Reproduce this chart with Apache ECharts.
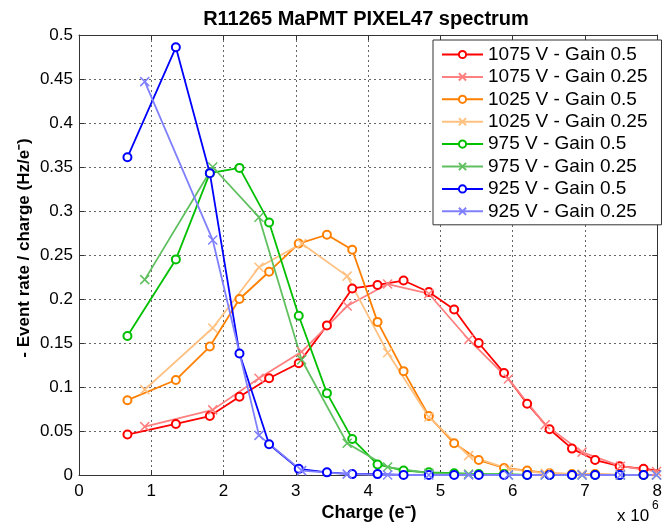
<!DOCTYPE html>
<html>
<head>
<meta charset="utf-8">
<script src="https://cdn.jsdelivr.net/npm/echarts@6/dist/echarts.min.js"></script>
<style>html,body{margin:0;padding:0;background:#fff}#c{width:665px;height:529px}</style>
</head>
<body>
<div id="c"></div>
<script>
// Charge positions (x 10^6 e-)
const xGain05 = [0.67, 1.34, 1.81, 2.22, 2.63, 3.04, 3.43, 3.78, 4.13, 4.49, 4.84, 5.19, 5.53, 5.88, 6.20, 6.51, 6.82, 7.14, 7.48, 7.81, 8.15];
const xGain025 = [0.91, 1.85, 2.49, 3.08, 3.71, 4.27, 4.84, 5.39, 5.94, 6.45, 6.96, 7.49, 7.99];

const v1075g05 = [0.046, 0.058, 0.067, 0.089, 0.110, 0.127, 0.170, 0.212, 0.216, 0.221, 0.208, 0.188, 0.150, 0.116, 0.081, 0.052, 0.030, 0.017, 0.010, 0.007, 0.004];
const v1075g025 = [0.055, 0.074, 0.110, 0.140, 0.192, 0.217, 0.206, 0.154, 0.109, 0.057, 0.026, 0.010, 0.004];
const v1025g05 = [0.085, 0.108, 0.146, 0.200, 0.231, 0.263, 0.273, 0.256, 0.174, 0.118, 0.067, 0.036, 0.017, 0.008, 0.005, 0.002, 0.001, 0.001, 0, 0];
const v1025g025 = [0.097, 0.167, 0.236, 0.263, 0.226, 0.139, 0.066, 0.022, 0.007, 0.002, 0.001, 0, 0];
const v975g05 = [0.158, 0.245, 0.343, 0.349, 0.287, 0.181, 0.093, 0.041, 0.012, 0.005, 0.003, 0.002, 0.001, 0.001, 0, 0, 0, 0, 0, 0];
const v975g025 = [0.222, 0.350, 0.293, 0.131, 0.036, 0.009, 0.002, 0.001, 0, 0, 0, 0, 0];
const v925g05 = [0.361, 0.486, 0.343, 0.138, 0.035, 0.007, 0.003, 0.001, 0.001, 0, 0, 0, 0, 0, 0, 0, 0, 0, 0, 0];
const v925g025 = [0.447, 0.267, 0.045, 0.005, 0.001, 0, 0, 0, 0, 0, 0, 0, 0];

const seriesNames = ['1075 V - Gain 0.5', '1075 V - Gain 0.25', '1025 V - Gain 0.5', '1025 V - Gain 0.25',
  '975 V - Gain 0.5', '975 V - Gain 0.25', '925 V - Gain 0.5', '925 V - Gain 0.25'];
const seriesValues = [v1075g05, v1075g025, v1025g05, v1025g025, v975g05, v975g025, v925g05, v925g025];
const seriesX = [xGain05, xGain025, xGain05, xGain025, xGain05, xGain025, xGain05, xGain025];
const seriesColors = ['#ff0000', '#ff8080', '#ff8000', '#ffc080', '#00c000', '#60c060', '#0000ff', '#8080ff'];

const FONT = 'Liberation Sans, Arial, sans-serif';
const crossPath = 'path://M0,0L10,10M10,0L0,10';

const series = seriesNames.map((name, i) => {
  const isCircle = i % 2 === 0;
  const c = seriesColors[i];
  return {
    name,
    type: 'line',
    data: seriesValues[i].map((v, k) => [seriesX[i][k], v]),
    symbol: isCircle ? 'emptyCircle' : crossPath,
    symbolSize: isCircle ? 8 : 9,
    showAllSymbol: true,
    lineStyle: { color: c, width: 1.8 },
    itemStyle: { color: c, borderColor: c, borderWidth: 1.5 },
    emphasis: { disabled: true },
    animation: false,
    clip: true
  };
});

const axisCommon = {
  type: 'value',
  axisLine: { show: true, onZero: false, lineStyle: { color: '#333', width: 1 } },
  axisTick: { show: true, inside: true, length: 5, lineStyle: { color: '#333' } },
};

const chart = echarts.init(document.getElementById('c'));
chart.setOption({
  animation: false,
  backgroundColor: '#fff',
  textStyle: { fontFamily: FONT },
  title: {
    text: 'R11265 MaPMT PIXEL47 spectrum',
    left: 361, top: 4, textAlign: 'center',
    textStyle: { fontFamily: FONT, fontWeight: 'bold', fontSize: 20, color: '#000' }
  },
  legend: {
    data: seriesNames,
    orient: 'vertical',
    left: 433, top: 40,
    itemWidth: 41, itemHeight: 9, itemGap: 3.4,
    padding: [5, 14, 4, 8],
    borderColor: '#333', borderWidth: 1,
    backgroundColor: '#fff',
    textStyle: { fontFamily: FONT, fontSize: 19, color: '#000' },
    selectedMode: false
  },
  grid: { left: 79, right: 6, top: 35, bottom: 54, containLabel: false },
  xAxis: [
    Object.assign({}, axisCommon, {
      min: 0, max: 8, interval: 1, position: 'bottom',
      axisLabel: { fontFamily: FONT, fontSize: 17, color: '#000', margin: 8 },
      splitLine: { show: true, lineStyle: { color: '#666', type: [2, 3], width: 1 } }
    }),
    Object.assign({}, axisCommon, {
      min: 0, max: 8, interval: 1, position: 'top',
      axisLabel: { show: false }, splitLine: { show: false }
    })
  ],
  yAxis: [
    Object.assign({}, axisCommon, {
      min: 0, max: 0.5, interval: 0.05, position: 'left',
      axisLabel: { fontFamily: FONT, fontSize: 17, color: '#000', margin: 6 },
      splitLine: { show: true, lineStyle: { color: '#666', type: [2, 3], width: 1 } }
    }),
    Object.assign({}, axisCommon, {
      min: 0, max: 0.5, interval: 0.05, position: 'right',
      axisLabel: { show: false }, splitLine: { show: false }
    })
  ],
  graphic: [
    { type: 'text', x: 369, y: 513, style: { text: 'Charge (e⁻)', fontFamily: FONT, fontWeight: 'bold', fontSize: 18, fill: '#000', textAlign: 'center', textVerticalAlign: 'middle' } },
    { type: 'text', x: 617, y: 516, style: { text: 'x 10', fontFamily: FONT, fontSize: 17, fill: '#000', textAlign: 'left', textVerticalAlign: 'middle' } },
    { type: 'text', x: 652, y: 506, style: { text: '6', fontFamily: FONT, fontSize: 12, fill: '#000', textAlign: 'left', textVerticalAlign: 'middle' } },
    { type: 'text', x: 24, y: 248, rotation: Math.PI / 2, style: { text: '- Event rate / charge (Hz/e⁻)', fontFamily: FONT, fontWeight: 'bold', fontSize: 17, fill: '#000', textAlign: 'center', textVerticalAlign: 'middle' } }
  ],
  series
});
</script>
</body>
</html>
